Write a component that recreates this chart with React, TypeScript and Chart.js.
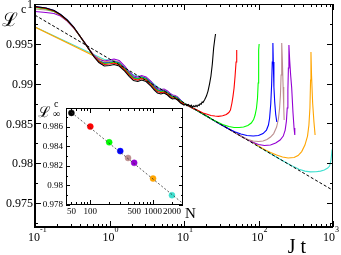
import React, { useEffect, useRef } from "react";
import { Chart, registerables } from "chart.js";
Chart.register(...registerables);

// ---------- main chart data (J t, L^c) ----------
const EARLY_T = [0.1, 0.14, 0.18, 0.22, 0.27, 0.33, 0.4, 0.47, 0.55, 0.63, 0.72, 0.85, 1.0, 1.15, 1.35, 1.6, 1.85, 2.1, 2.4, 2.7, 3.1, 3.6, 4.0, 4.4, 4.9, 5.4, 6.0, 6.5, 7.0, 7.6, 8.2, 9.0, 10];

const N50_EARLY = [0.99969, 0.9995, 0.99918, 0.99868, 0.99799, 0.99711, 0.99598, 0.99504, 0.9941, 0.99328, 0.99265, 0.99221, 0.99228, 0.9924, 0.99221, 0.99158, 0.99089, 0.99039, 0.99027, 0.99045, 0.99027, 0.9897, 0.9892, 0.98882, 0.9887, 0.98882, 0.98857, 0.98826, 0.98807, 0.98813, 0.98794, 0.98757, 0.98731];
const N50_TAIL_T = [10.5, 11, 11.5, 12, 12.5, 13, 13.5, 14, 14.5, 15, 15.5, 16, 16.5, 17, 17.5, 18, 19, 20, 21, 22, 23, 24, 25, 26, 26.5];
const N50_TAIL = [0.9874, 0.98722, 0.98738, 0.98715, 0.9873, 0.98706, 0.98722, 0.9871, 0.98728, 0.98713, 0.98732, 0.98725, 0.98748, 0.98742, 0.98768, 0.98762, 0.98801, 0.98844, 0.98907, 0.98995, 0.99096, 0.99246, 0.99447, 0.99573, 0.99623];

const N100_EARLY = [0.99962, 0.99943, 0.99912, 0.99862, 0.99793, 0.99705, 0.99598, 0.99504, 0.9941, 0.99334, 0.99278, 0.9924, 0.99246, 0.99259, 0.9924, 0.99177, 0.99108, 0.99058, 0.99045, 0.99064, 0.99045, 0.98989, 0.98939, 0.98901, 0.98888, 0.98895, 0.9887, 0.98838, 0.98819, 0.98819, 0.98801, 0.98769, 0.98744];
const N100_TAIL_T = [11, 13, 15, 18, 20, 23, 26, 29, 33, 37, 40, 42, 44, 45.5, 47, 48.5, 50, 51];
const N100_TAIL = [0.98731, 0.98694, 0.98669, 0.98631, 0.98618, 0.986, 0.98593, 0.98589, 0.98596, 0.98612, 0.98637, 0.98669, 0.98757, 0.98844, 0.98945, 0.99096, 0.99272, 0.99422];

const N200_EARLY = [0.99956, 0.99937, 0.99906, 0.99862, 0.99793, 0.99705, 0.99598, 0.99504, 0.9941, 0.99334, 0.99284, 0.99253, 0.99259, 0.99272, 0.99253, 0.9919, 0.99121, 0.99071, 0.99058, 0.99077, 0.99058, 0.99001, 0.98951, 0.98914, 0.98901, 0.98907, 0.98882, 0.98851, 0.98832, 0.98832, 0.98813, 0.98782, 0.9875];
const N200_TAIL_T = [11, 13, 15, 18, 20, 24, 28, 33, 40, 47, 55, 63, 72, 80, 86, 90, 94, 97, 99, 100, 101, 102];
const N200_TAIL = [0.98731, 0.98694, 0.98663, 0.98618, 0.98593, 0.98549, 0.98518, 0.98487, 0.98461, 0.98449, 0.98449, 0.98455, 0.98474, 0.98505, 0.98549, 0.98606, 0.98694, 0.98819, 0.99008, 0.99221, 0.99422, 0.99498];

const N300_EARLY = [0.99969, 0.9995, 0.99918, 0.99868, 0.99799, 0.99711, 0.99598, 0.99504, 0.9941, 0.99334, 0.99284, 0.99259, 0.99265, 0.99278, 0.99259, 0.99196, 0.99127, 0.99077, 0.99064, 0.99083, 0.99064, 0.99008, 0.98958, 0.9892, 0.98907, 0.98914, 0.98888, 0.98857, 0.98838, 0.98838, 0.98819, 0.98788, 0.9875];
const N300_TAIL_T = [11, 13, 15, 18, 20, 25, 30, 35, 40, 48, 58, 70, 85, 100, 115, 128, 136, 141, 146, 150, 153, 156, 158, 161, 165, 170, 176];
const N300_TAIL = [0.98731, 0.98694, 0.98663, 0.98618, 0.98593, 0.98539, 0.98497, 0.98461, 0.9843, 0.98395, 0.98367, 0.98348, 0.98342, 0.98348, 0.98373, 0.98417, 0.9848, 0.98568, 0.98744, 0.98983, 0.99272, 0.9951, 0.99272, 0.98958, 0.98769, 0.98618, 0.98518];

const N400_EARLY = [0.99937, 0.99925, 0.99906, 0.99862, 0.99793, 0.99705, 0.99598, 0.99504, 0.9941, 0.99334, 0.9929, 0.99265, 0.99278, 0.9929, 0.99272, 0.99202, 0.99133, 0.99083, 0.99071, 0.99089, 0.99071, 0.99014, 0.98964, 0.98926, 0.98914, 0.9892, 0.98895, 0.98863, 0.98844, 0.98844, 0.98826, 0.98788, 0.9875];
const N400_TAIL_T = [11, 13, 15, 18, 20, 25, 30, 35, 40, 50, 60, 72, 85, 100, 115, 130, 145, 160, 175, 185, 192, 197, 201, 204, 206, 209, 214, 218, 221];
const N400_TAIL = [0.98731, 0.98694, 0.98663, 0.98618, 0.98593, 0.98539, 0.98497, 0.98461, 0.9843, 0.98377, 0.98336, 0.98298, 0.98279, 0.98273, 0.98279, 0.98298, 0.9833, 0.98373, 0.98455, 0.98556, 0.98694, 0.98857, 0.99108, 0.99359, 0.9951, 0.99297, 0.98958, 0.98719, 0.98543];

const N500_EARLY = [0.99906, 0.99893, 0.99881, 0.99849, 0.99786, 0.99699, 0.99598, 0.9951, 0.99416, 0.99347, 0.99303, 0.99284, 0.99297, 0.99309, 0.9929, 0.99221, 0.99146, 0.99096, 0.99083, 0.99102, 0.99083, 0.99027, 0.98976, 0.98939, 0.98926, 0.98932, 0.98907, 0.98876, 0.98857, 0.98851, 0.98832, 0.98794, 0.9875];
const N500_TAIL_T = [11, 13, 15, 18, 20, 25, 30, 35, 40, 50, 60, 72, 85, 100, 120, 145, 170, 195, 215, 228, 237, 243, 248, 252, 256, 262, 270, 279, 290, 300, 307];
const N500_TAIL = [0.98731, 0.98694, 0.98663, 0.98618, 0.98593, 0.98539, 0.98497, 0.98461, 0.9843, 0.98377, 0.98333, 0.98294, 0.9826, 0.98236, 0.98223, 0.98229, 0.98254, 0.98292, 0.98342, 0.98417, 0.9853, 0.98694, 0.9892, 0.99196, 0.99485, 0.99297, 0.99108, 0.98945, 0.98644, 0.98443, 0.98355];

const N1000_T = [0.1, 0.85, 1.0, 1.15, 1.35, 1.6, 1.85, 2.1, 2.4, 2.7, 3.1, 3.6, 4.0, 4.4, 4.9, 5.4, 6.0, 6.5, 7.0, 7.6, 8.2, 9.0, 10, 11, 13, 15, 18, 20, 25, 30, 35, 40, 50, 60, 72, 85, 100, 120, 145, 175, 210, 250, 300, 340, 380, 420, 455, 475, 490, 500, 506, 515, 533, 555, 575];
const N1000_L = [0.99711, 0.99284, 0.99272, 0.99259, 0.99234, 0.99171, 0.99115, 0.99077, 0.99064, 0.99064, 0.99045, 0.99001, 0.98964, 0.98932, 0.98907, 0.98895, 0.9887, 0.98851, 0.98832, 0.98819, 0.98801, 0.98775, 0.98744, 0.98731, 0.98694, 0.98663, 0.98618, 0.98593, 0.98539, 0.98497, 0.98461, 0.9843, 0.98377, 0.98333, 0.98294, 0.9826, 0.98216, 0.98173, 0.98135, 0.98103, 0.98078, 0.98066, 0.98072, 0.98097, 0.98147, 0.98229, 0.98342, 0.9848, 0.98694, 0.99045, 0.99397, 0.99108, 0.98757, 0.98518, 0.98355];

const N2000_T = [0.1, 0.85, 1.0, 1.15, 1.35, 1.6, 1.85, 2.1, 2.4, 2.7, 3.1, 3.6, 4.0, 4.4, 4.9, 5.4, 6.0, 6.5, 7.0, 7.6, 8.2, 9.0, 10, 11, 13, 15, 18, 20, 25, 30, 35, 40, 50, 60, 72, 85, 100, 120, 150, 200, 250, 300, 350, 420, 500, 590, 680, 764, 850, 900, 940, 970, 985, 1000, 1010];
const N2000_L = [0.99711, 0.99303, 0.99297, 0.99284, 0.99259, 0.99202, 0.99146, 0.99108, 0.99096, 0.99089, 0.99071, 0.99027, 0.98989, 0.98958, 0.98932, 0.9892, 0.98895, 0.98876, 0.98857, 0.98838, 0.98819, 0.98788, 0.98757, 0.98731, 0.98694, 0.98663, 0.98618, 0.98593, 0.98539, 0.98497, 0.98461, 0.9843, 0.98377, 0.98333, 0.98294, 0.9826, 0.9821, 0.98166, 0.98113, 0.98044, 0.97994, 0.97955, 0.97925, 0.97902, 0.97892, 0.97893, 0.97902, 0.97915, 0.9794, 0.97965, 0.98041, 0.98166, 0.98292, 0.98455, 0.98606];

const GUIDE_T = [0.1, 1000];
const GUIDE_L = [0.9986, 0.9766];

const X_MAJOR = [0.1, 1, 10, 100, 1000];
const X_EXP = ["-1", "0", "1", "2", "3"];
const Y_MAJOR = [0.975, 0.98, 0.985, 0.99, 0.995, 1.0];
const Y_LABELS = ["0.975", "0.98", "0.985", "0.99", "0.995", "1"];
const Y_MINOR = [0.9725, 0.9775, 0.9825, 0.9875, 0.9925, 0.9975];

// ---------- inset data (N, L^c_inf) ----------
const INSET_N = [50, 100, 200, 300, 400, 500, 1000, 2000];
const INSET_L = [0.9874, 0.986, 0.9844, 0.9835, 0.9828, 0.9823, 0.9807, 0.979];
const FIT_N = [50, 3000];
const FIT_L = [0.98745, 0.97815];
const INSET_X_TICKS = [50, 100, 500, 1000, 2000];
const INSET_X_LABELS = ["50", "100", "500", "1000", "2000"];
const INSET_Y_MAJOR = [0.978, 0.98, 0.982, 0.984, 0.986];
const INSET_Y_LABELS = ["0.978", "0.98", "0.982", "0.984", "0.986"];
const INSET_Y_MINOR = [0.979, 0.981, 0.983, 0.985, 0.987];

const COLORS = ["#000000", "#ff0000", "#00ff00", "#0000ff", "#bc8f8f", "#9400d3", "#ffa500", "#40e0d0"];
const SERIF = '"Liberation Serif", "DejaVu Serif", serif';

function pts(t: number[], v: number[]) {
  return t.map((x, i) => ({ x, y: v[i] }));
}

function line(ctx: CanvasRenderingContext2D, x1: number, y1: number, x2: number, y2: number) {
  ctx.beginPath();
  ctx.moveTo(x1, y1);
  ctx.lineTo(x2, y2);
  ctx.stroke();
}

const mainAxes = {
  id: "mainAxes",
  afterDraw(chart: any) {
    const { ctx, chartArea: a, scales } = chart;
    const xs = scales.x;
    const ys = scales.y;
    ctx.save();
    ctx.strokeStyle = "#000";
    ctx.lineWidth = 1;
    const xTick = (v: number, len: number) => {
      const x = Math.round(xs.getPixelForValue(v)) + 0.5;
      line(ctx, x, a.bottom, x, a.bottom - len);
      line(ctx, x, a.top, x, a.top + len);
    };
    const yTick = (v: number, len: number) => {
      const y = Math.round(ys.getPixelForValue(v)) + 0.5;
      line(ctx, a.left, y, a.left + len, y);
      line(ctx, a.right, y, a.right - len, y);
    };
    X_MAJOR.forEach((v) => xTick(v, 6));
    for (let k = 0; k < X_MAJOR.length - 1; k++) {
      for (let m = 2; m <= 9; m++) xTick(X_MAJOR[k] * m, 3);
    }
    Y_MAJOR.forEach((v) => yTick(v, 6));
    Y_MINOR.forEach((v) => yTick(v, 3));
    // frame
    ctx.lineWidth = 1;
    line(ctx, a.left, a.top + 0.5, a.right, a.top + 0.5);
    line(ctx, a.right - 0.5, a.top, a.right - 0.5, a.bottom);
    ctx.lineWidth = 2;
    line(ctx, a.left, a.bottom, a.right, a.bottom);
    line(ctx, a.left, a.top, a.left, a.bottom + 1);
    // labels
    ctx.fillStyle = "#000";
    ctx.font = `12px ${SERIF}`;
    ctx.textAlign = "right";
    ctx.textBaseline = "middle";
    Y_MAJOR.forEach((v, i) => ctx.fillText(Y_LABELS[i], a.left - 2, ys.getPixelForValue(v) + 1));
    X_MAJOR.forEach((v, i) => {
      let x = xs.getPixelForValue(v);
      if (i === X_MAJOR.length - 1) x -= 3;
      ctx.font = `12px ${SERIF}`;
      ctx.textAlign = "center";
      ctx.fillText("10", x - 1, a.bottom + 11);
      ctx.font = `8px ${SERIF}`;
      ctx.textAlign = "left";
      ctx.fillText(X_EXP[i], x + 5, a.bottom + 3);
    });
    ctx.textAlign = "left";
    ctx.textBaseline = "alphabetic";
    ctx.font = `19px ${SERIF}`;
    ctx.fillText("\u2112", 2, 26);
    ctx.font = `12px ${SERIF}`;
    ctx.fillText("c", 21, 13);
    ctx.font = `20px ${SERIF}`;
    ctx.textAlign = "center";
    ctx.fillText("J t", 297, 253);
    ctx.restore();
  },
};

const insetAxes = {
  id: "insetAxes",
  afterDraw(chart: any) {
    const { ctx, chartArea: a, scales } = chart;
    const xs = scales.x;
    const ys = scales.y;
    ctx.save();
    ctx.strokeStyle = "#000";
    ctx.lineWidth = 1;
    const xTick = (v: number, len: number) => {
      const x = Math.round(xs.getPixelForValue(v)) + 0.5;
      line(ctx, x, a.bottom, x, a.bottom - len);
      line(ctx, x, a.top, x, a.top + len);
    };
    const yTick = (v: number, len: number) => {
      const y = Math.round(ys.getPixelForValue(v)) + 0.5;
      line(ctx, a.left, y, a.left + len, y);
      line(ctx, a.right, y, a.right - len, y);
    };
    [100, 1000].forEach((v) => xTick(v, 5));
    [50, 60, 70, 80, 90].forEach((v) => xTick(v, 3));
    for (let m = 2; m <= 9; m++) xTick(100 * m, 3);
    [2000].forEach((v) => xTick(v, 3));
    INSET_Y_MAJOR.forEach((v) => yTick(v, 4));
    INSET_Y_MINOR.forEach((v) => yTick(v, 2));
    ctx.strokeRect(a.left + 0.5, a.top + 0.5, a.right - a.left - 1, a.bottom - a.top - 1);
    ctx.fillStyle = "#000";
    ctx.font = `9px ${SERIF}`;
    ctx.textAlign = "right";
    ctx.textBaseline = "middle";
    INSET_Y_MAJOR.forEach((v, i) => ctx.fillText(INSET_Y_LABELS[i], a.left - 3, ys.getPixelForValue(v)));
    ctx.textAlign = "center";
    INSET_X_TICKS.forEach((v, i) => ctx.fillText(INSET_X_LABELS[i], xs.getPixelForValue(v), a.bottom + 7));
    ctx.textBaseline = "alphabetic";
    ctx.textAlign = "left";
    ctx.font = `15px ${SERIF}`;
    ctx.fillText("\u2112", 2, 21);
    ctx.font = `10px ${SERIF}`;
    ctx.fillText("c", 18, 11);
    ctx.fillText("\u221E", 17, 21);
    ctx.font = `15px ${SERIF}`;
    ctx.fillText("N", a.right + 2, a.bottom + 13);
    ctx.restore();
  },
};

export default function App() {
  const mainRef = useRef<HTMLCanvasElement>(null);
  const insetRef = useRef<HTMLCanvasElement>(null);

  useEffect(() => {
    document.body.style.margin = "0";
    const series = [
      pts([...EARLY_T, ...N50_TAIL_T], [...N50_EARLY, ...N50_TAIL]),
      pts([...EARLY_T, ...N100_TAIL_T], [...N100_EARLY, ...N100_TAIL]),
      pts([...EARLY_T, ...N200_TAIL_T], [...N200_EARLY, ...N200_TAIL]),
      pts([...EARLY_T, ...N300_TAIL_T], [...N300_EARLY, ...N300_TAIL]),
      pts([...EARLY_T, ...N400_TAIL_T], [...N400_EARLY, ...N400_TAIL]),
      pts([...EARLY_T, ...N500_TAIL_T], [...N500_EARLY, ...N500_TAIL]),
      pts(N1000_T, N1000_L),
      pts(N2000_T, N2000_L),
    ];
    const datasets: any[] = [
      {
        data: pts(GUIDE_T, GUIDE_L),
        showLine: true,
        borderColor: "#000",
        borderWidth: 1,
        borderDash: [3, 2],
        pointRadius: 0,
      },
      ...series.map((d, i) => ({
        data: d,
        showLine: true,
        borderColor: COLORS[i],
        borderWidth: 1.1,
        pointRadius: 0,
      })),
    ];
    const main = new Chart(mainRef.current!, {
      type: "scatter",
      data: { datasets },
      options: {
        responsive: false,
        animation: false,
        devicePixelRatio: 1,
        events: [],
        layout: { padding: { left: 35, top: 4, right: 8, bottom: 28 } },
        plugins: { legend: { display: false }, tooltip: { enabled: false } },
        scales: {
          x: { type: "logarithmic", min: 0.1, max: 1000, display: false },
          y: { type: "linear", min: 0.972, max: 1.0, display: false },
        },
      },
      plugins: [mainAxes],
    } as any);

    const inset = new Chart(insetRef.current!, {
      type: "scatter",
      data: {
        datasets: [
          {
            data: pts(FIT_N, FIT_L),
            showLine: true,
            borderColor: "#333",
            borderWidth: 0.8,
            borderDash: [2, 2],
            pointRadius: 0,
          },
          {
            data: pts(INSET_N, INSET_L),
            showLine: false,
            pointRadius: 3,
            pointBackgroundColor: COLORS,
            pointBorderColor: COLORS,
            pointBorderWidth: 0.5,
          },
        ],
      },
      options: {
        responsive: false,
        animation: false,
        devicePixelRatio: 1,
        events: [],
        layout: { padding: { left: 30, top: 12, right: 21, bottom: 19 } },
        plugins: { legend: { display: false }, tooltip: { enabled: false } },
        scales: {
          x: { type: "logarithmic", min: 41, max: 3000, display: false },
          y: { type: "linear", min: 0.978, max: 0.9879, display: false },
        },
      },
      plugins: [insetAxes],
    } as any);

    return () => {
      main.destroy();
      inset.destroy();
    };
  }, []);

  return (
    <div style={{ position: "relative", width: 341, height: 255, background: "#fff" }}>
      <canvas ref={mainRef} width={341} height={255} style={{ position: "absolute", left: 0, top: 0 }} />
      <canvas ref={insetRef} width={168} height={128} style={{ position: "absolute", left: 36, top: 96 }} />
    </div>
  );
}
